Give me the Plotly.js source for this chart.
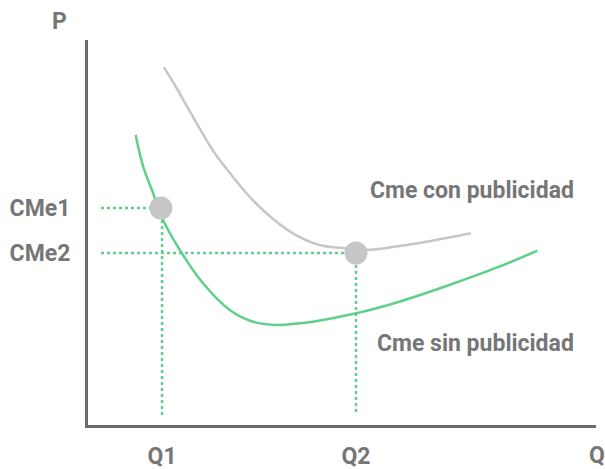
<!DOCTYPE html>
<html>
<head>
<meta charset="utf-8">
<script src="https://cdn.plot.ly/plotly-3.0.1.min.js"></script>
<style>html,body{margin:0;padding:0;background:#fff;}#chart{width:605px;height:469px;}</style>
</head>
<body>
<div id="chart"></div>
<script>
// Curve "Cme con publicidad" (gray)
const conX = [7.6, 8.7, 10.03, 11.37, 12.7, 14.37, 16.03, 17.7, 20.53, 23.2, 25.5, 27.87, 31.2, 34.5, 38.37];
const conY = [35.77, 34.0, 31.67, 29.33, 27.17, 25.0, 23.0, 21.33, 19.17, 18.0, 17.7, 17.5, 17.9, 18.43, 19.17];
// Curve "Cme sin publicidad" (green)
const sinX = [4.77, 5.53, 6.53, 7.37, 9.2, 11.53, 14.2, 16.53, 18.87, 21.2, 22.53, 26.87, 31.2, 36.2, 41.2, 45.03];
const sinY = [29.0, 25.83, 23.17, 20.83, 17.5, 14.17, 11.5, 10.33, 10.0, 10.17, 10.33, 11.17, 12.33, 14.0, 15.83, 17.43];
// Equilibrium points
const pointQ = [7.3, 26.85];
const pointP = [21.7, 17.2];
const qTicks = ['Q1', 'Q2'];
const pTicks = ['CMe1', 'CMe2'];
const dropX = [7.42, 26.85];
const guideStart = 1.3;
const guideEnd = 1.0;
const curveLabels = ['Cme con publicidad', 'Cme sin publicidad'];
const curveLabelPos = [[48.9, 23.5], [48.9, 8.2]];

const GREEN = '#5fcf8c';
const GRAY = '#c6c6c6';
const TXT = '#767676';
const FONT = 'Roboto, sans-serif';
const FS = 23;

const traces = [];
// dotted guide lines
for (let i = 0; i < 2; i++) {
  traces.push({x: [guideStart, pointQ[i]], y: [pointP[i], pointP[i]], mode: 'lines',
    line: {color: GREEN, width: 2.5, dash: 'dot'}, hoverinfo: 'skip', showlegend: false});
  traces.push({x: [dropX[i], dropX[i]], y: [pointP[i], guideEnd], mode: 'lines',
    line: {color: GREEN, width: 2.5, dash: 'dot'}, hoverinfo: 'skip', showlegend: false});
}
traces.push({x: conX, y: conY, mode: 'lines', name: curveLabels[0],
  line: {color: GRAY, width: 2.5, shape: 'spline', smoothing: 1}, showlegend: false});
traces.push({x: sinX, y: sinY, mode: 'lines', name: curveLabels[1],
  line: {color: GREEN, width: 2.5, shape: 'spline', smoothing: 1}, showlegend: false});
traces.push({x: pointQ, y: pointP, mode: 'markers',
  marker: {color: GRAY, size: 23}, showlegend: false});

const annotations = [
  {text: 'P', x: 59, y: 21},
  {text: 'Q', x: 597, y: 456}
].map(a => ({text: '<b>' + a.text + '</b>', xref: 'x domain', yref: 'y domain',
  x: (a.x - 88) / 508, y: (425 - a.y) / 385, xanchor: 'center', yanchor: 'middle',
  showarrow: false, font: {family: FONT, size: FS, color: TXT}}));
for (let i = 0; i < 2; i++) {
  annotations.push({text: '<b>' + curveLabels[i] + '</b>', x: curveLabelPos[i][0], y: curveLabelPos[i][1],
    xref: 'x', yref: 'y', xanchor: 'right', yanchor: 'middle', showarrow: false,
    font: {family: FONT, size: FS, color: TXT}});
}

const layout = {
  width: 605, height: 469,
  margin: {l: 88, r: 9, t: 40, b: 44},
  paper_bgcolor: '#ffffff', plot_bgcolor: '#ffffff',
  showlegend: false,
  xaxis: {range: [0, 50.9], showgrid: false, zeroline: false, showline: true,
    linecolor: '#6b6b6b', linewidth: 3, ticks: '', tickvals: dropX, ticktext: qTicks.map(t => '<b>' + t + '</b>'),
    tickfont: {family: FONT, size: FS, color: TXT}, ticklabelstandoff: 8, fixedrange: true},
  yaxis: {range: [0, 38.5], showgrid: false, zeroline: false, showline: true,
    linecolor: '#6b6b6b', linewidth: 3, ticks: '', tickvals: pointP, ticktext: pTicks.map(t => '<b>' + t + '</b>'),
    tickfont: {family: FONT, size: FS, color: TXT}, ticklabelstandoff: 10, fixedrange: true},
  annotations: annotations
};
Plotly.newPlot('chart', traces, layout, {staticPlot: true, displayModeBar: false});
</script>
</body>
</html>
